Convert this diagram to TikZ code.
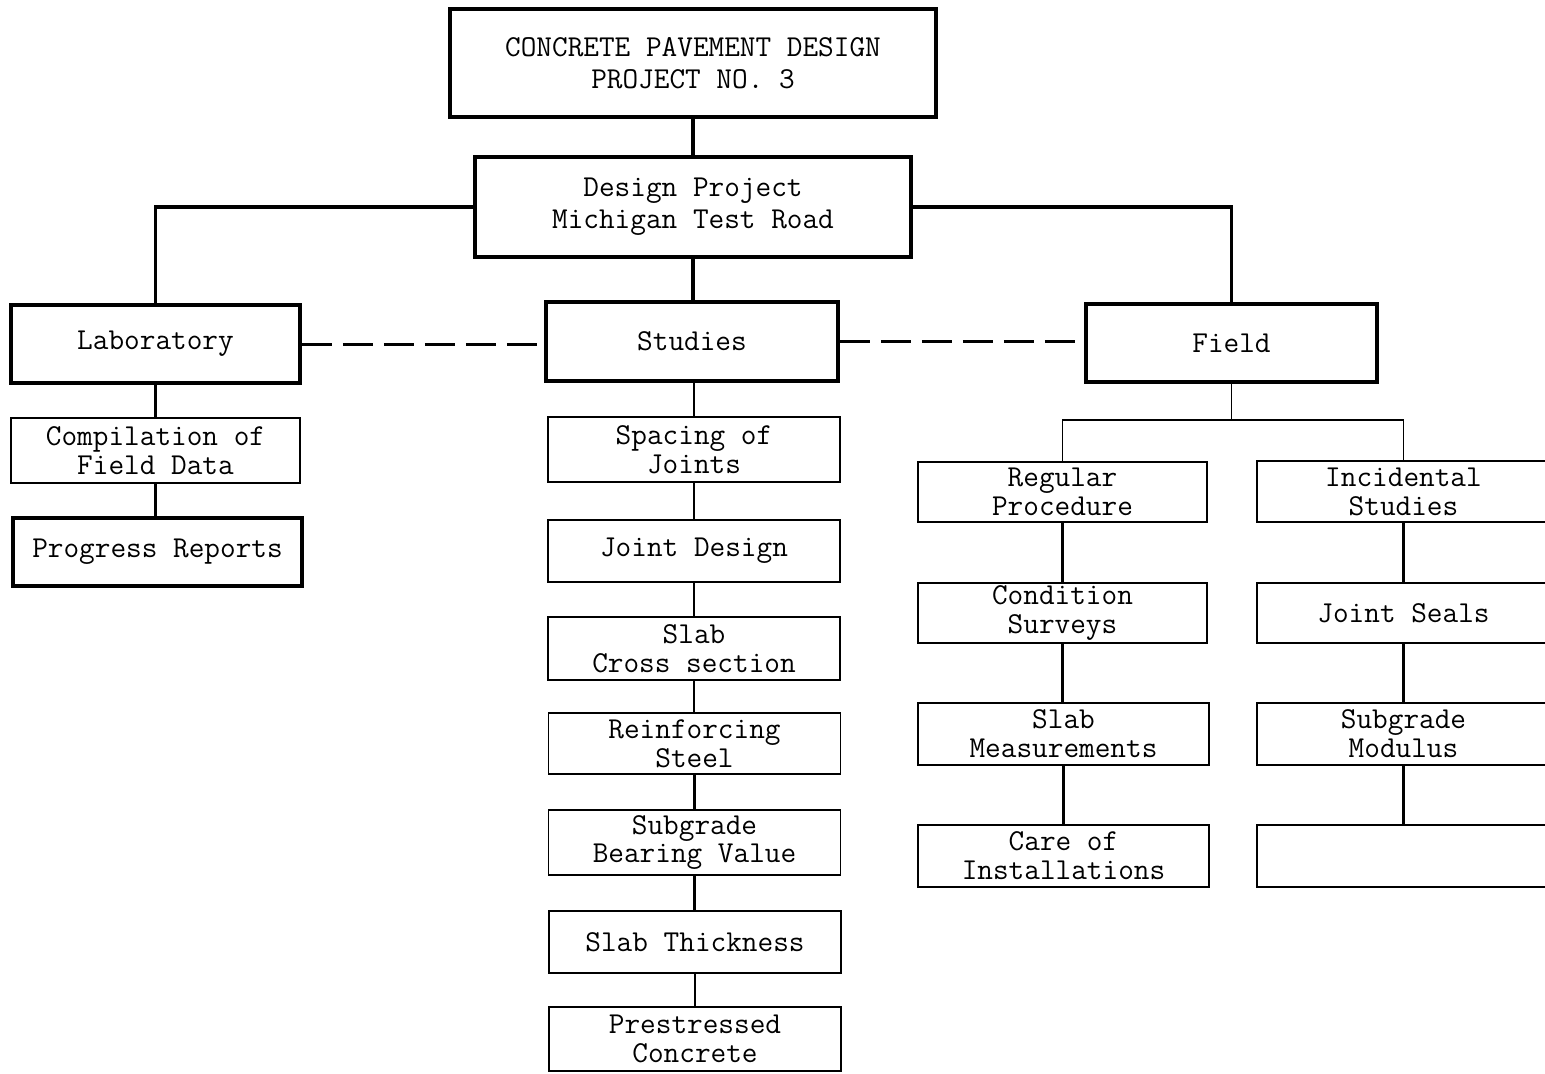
\documentclass[tikz,border=0pt]{standalone}
\usepackage{fontspec}
\usepackage{tikz}
\usetikzlibrary{positioning}

\tikzset{
	bigbox/.style 2 args={draw, line width=2.2pt, inner sep=0pt, align=center,
		minimum width=#1*0.02cm, minimum height=#2*0.02cm},
	smallbox/.style 2 args={draw, line width=1.1pt, inner sep=0pt, align=center,
		minimum width=#1*0.02cm, minimum height=#2*0.02cm},
	thicklink/.style={line width=2.2pt},
	link/.style={line width=1.3pt},
	thinlink/.style={line width=1pt},
	dashlink/.style={line width=1.7pt, dash pattern=on 0.6cm off 0.22cm}
}

\begin{document}
\begin{tikzpicture}[x=0.02cm,y=-0.02cm, font=\ttfamily\fontsize{17.3}{16.5}\selectfont]
	\useasboundingbox (0,0) rectangle (1545,1073);
	
	\node[bigbox={486}{108}, font=\ttfamily\fontsize{17.3}{18.2}\selectfont] (top) at (693,63) {CONCRETE PAVEMENT DESIGN\\PROJECT NO. 3};
	\node[bigbox={436}{100}, font=\ttfamily\fontsize{17.3}{18.2}\selectfont] (design) at (693,207) {Design Project\\Michigan Test Road};
	
	\node[bigbox={289}{78}] (lab) at (155.5,344) {Laboratory};
	\node[bigbox={292}{79}] (studies) at (692,341.5) {Studies};
	\node[bigbox={291}{78}] (field) at (1231.5,343) {Field};
	
	% laboratory
	\node[smallbox={289}{65}] (comp) at (155.5,450.5) {Compilation of\\Field Data};
	\node[bigbox={289}{68}] (prog) at (157.5,552) {Progress Reports};
	
	% studies
	\node[smallbox={292}{65}] (spacing) at (694,449.5) {Spacing of\\Joints};
	\node[smallbox={292}{62}] (jdesign) at (694,551) {Joint Design};
	\node[smallbox={292}{63}] (cross) at (694,648.5) {Slab\\Cross section};
	\node[smallbox={292}{61}] (reinf) at (694.5,743.5) {Reinforcing\\Steel};
	\node[smallbox={292}{65}] (bearing) at (694.5,842.5) {Subgrade\\Bearing Value};
	\node[smallbox={292}{62}] (thick) at (695,942) {Slab Thickness};
	\node[smallbox={292}{64}] (prestr) at (695,1039) {Prestressed\\Concrete};
	
	% field
	\node[smallbox={289}{60}] (regular) at (1062.5,492) {Regular\\Procedure};
	\node[smallbox={289}{60}] (cond) at (1062.5,613) {Condition\\Surveys};
	\node[smallbox={291}{62}] (meas) at (1063.5,734) {Slab\\Measurements};
	\node[smallbox={291}{62}] (care) at (1063.5,856) {Care of\\Installations};
	
	\node[smallbox={293}{61}] (incid) at (1403.5,491.5) {Incidental\\Studies};
	\node[smallbox={293}{60}] (seals) at (1403.5,613) {Joint Seals};
	\node[smallbox={293}{62}] (modul) at (1403.5,734) {Subgrade\\Modulus};
	\node[smallbox={293}{62}] (blank) at (1403.5,856) {};
	
	% connectors
	\draw[thicklink] (top.south) -- (design.north);
	\draw[thicklink] (design.west) -| (lab.north);
	\draw[thicklink] (design.east) -| (field.north);
	\draw[thicklink] (design.south) -- (design.south |- studies.north);
	
	\draw[dashlink] (lab.east) -- (lab.east -| studies.west);
	\draw[dashlink] (studies.east) -- (studies.east -| field.west);
	
	\draw[link] (lab.south) -- (comp.north);
	\draw[link] (comp.south) -- (comp.south |- prog.north);
	
	\draw[link] (studies.south -| spacing.north) -- (spacing.north);
	\foreach \a/\b in {spacing/jdesign, jdesign/cross, cross/reinf, reinf/bearing, bearing/thick, thick/prestr}
		\draw[link] (\a.south) -- (\a.south |- \b.north);
	
	\draw[thinlink] (field.south) -- ++(0,36) coordinate (fsplit);
	\draw[thinlink] (regular.north) |- (fsplit) -| (incid.north);
	\foreach \a/\b in {regular/cond, cond/meas, incid/seals, seals/modul, modul/blank}
		\draw[link] (\a.south) -- (\a.south |- \b.north);
	\draw[link] (meas.south) -- (meas.south |- care.north);
	
\end{tikzpicture}
\end{document}
